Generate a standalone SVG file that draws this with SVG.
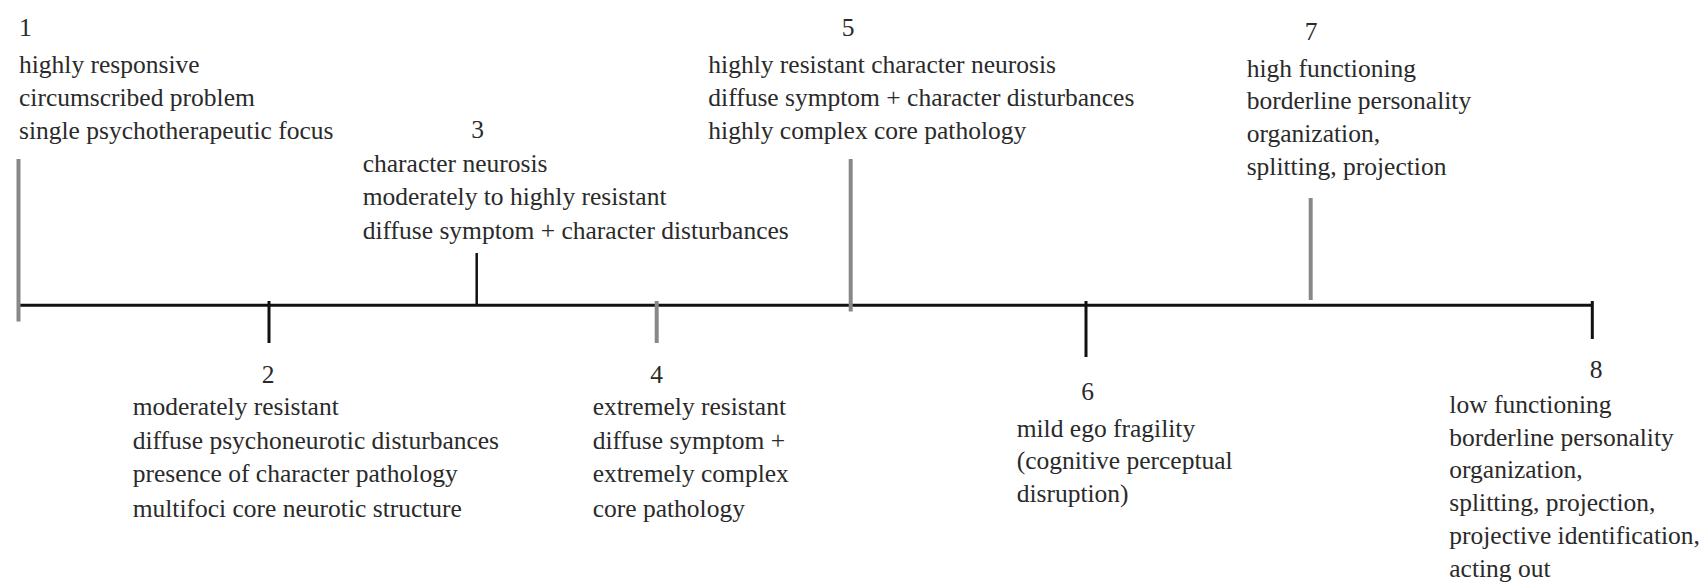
<svg xmlns="http://www.w3.org/2000/svg" width="1703" height="583" viewBox="0 0 1703 583">
<style>
text { font-family: "Times New Roman", "Liberation Serif", "DejaVu Serif", serif; font-size: 25.5px; fill: #2a2a2a; }
.num { text-anchor: middle; }
.axis { stroke: #111; stroke-width: 3; fill: none; }
.tk { stroke: #111; stroke-width: 3; fill: none; }
.tg { stroke: #888; stroke-width: 4; fill: none; }
</style>
<rect width="1703" height="583" fill="#fff"/>
<g id="connectors">
  <line class="axis" x1="19" y1="305.3" x2="1593" y2="305.3"/>
  <line class="tg" x1="18.5" y1="159" x2="18.5" y2="321.5"/>
  <line class="tk" x1="269" y1="301" x2="269" y2="343"/>
  <line class="tk" x1="476.7" y1="253" x2="476.7" y2="305" style="stroke-width:2.5"/>
  <line class="tg" x1="656.7" y1="301" x2="656.7" y2="343"/>
  <line class="tg" x1="850.7" y1="159" x2="850.7" y2="311.5"/>
  <line class="tk" x1="1086" y1="301" x2="1086" y2="357"/>
  <line class="tg" x1="1310.7" y1="198" x2="1310.7" y2="300"/>
  <line class="tk" x1="1592.3" y1="301" x2="1592.3" y2="339"/>
</g>
<g id="node1">
  <text x="19" y="36">1</text>
  <text x="19" y="72.7">highly responsive</text>
  <text x="19" y="105.7">circumscribed problem</text>
  <text x="19" y="138.5">single psychotherapeutic focus</text>
</g>
<g id="node2">
  <text class="num" x="268" y="383">2</text>
  <text x="132.7" y="415">moderately resistant</text>
  <text x="132.7" y="448.7">diffuse psychoneurotic disturbances</text>
  <text x="132.7" y="482.4">presence of character pathology</text>
  <text x="132.7" y="516.5">multifoci core neurotic structure</text>
</g>
<g id="node3">
  <text class="num" x="477.5" y="138">3</text>
  <text x="362.7" y="171.7">character neurosis</text>
  <text x="362.7" y="205.4">moderately to highly resistant</text>
  <text x="362.7" y="239">diffuse symptom + character disturbances</text>
</g>
<g id="node4">
  <text class="num" x="656.5" y="383">4</text>
  <text x="592.7" y="415">extremely resistant</text>
  <text x="592.7" y="448.7">diffuse symptom +</text>
  <text x="592.7" y="482.4">extremely complex</text>
  <text x="592.7" y="516.5">core pathology</text>
</g>
<g id="node5">
  <text class="num" x="848" y="36">5</text>
  <text x="708.3" y="72.7">highly resistant character neurosis</text>
  <text x="708.3" y="105.7">diffuse symptom + character disturbances</text>
  <text x="708.3" y="138.5">highly complex core pathology</text>
</g>
<g id="node6">
  <text class="num" x="1087.5" y="400">6</text>
  <text x="1016.7" y="436.7">mild ego fragility</text>
  <text x="1016.7" y="469.3">(cognitive perceptual</text>
  <text x="1016.7" y="501.7">disruption)</text>
</g>
<g id="node7">
  <text class="num" x="1311" y="40">7</text>
  <text x="1246.7" y="76.5">high functioning</text>
  <text x="1246.7" y="109.3">borderline personality</text>
  <text x="1246.7" y="142.3">organization,</text>
  <text x="1246.7" y="175">splitting, projection</text>
</g>
<g id="node8">
  <text class="num" x="1596" y="378">8</text>
  <text x="1449.3" y="412.7">low functioning</text>
  <text x="1449.3" y="445.6">borderline personality</text>
  <text x="1449.3" y="478.4">organization,</text>
  <text x="1449.3" y="511.2">splitting, projection,</text>
  <text x="1449.3" y="544">projective identification,</text>
  <text x="1449.3" y="576.8">acting out</text>
</g>
</svg>
